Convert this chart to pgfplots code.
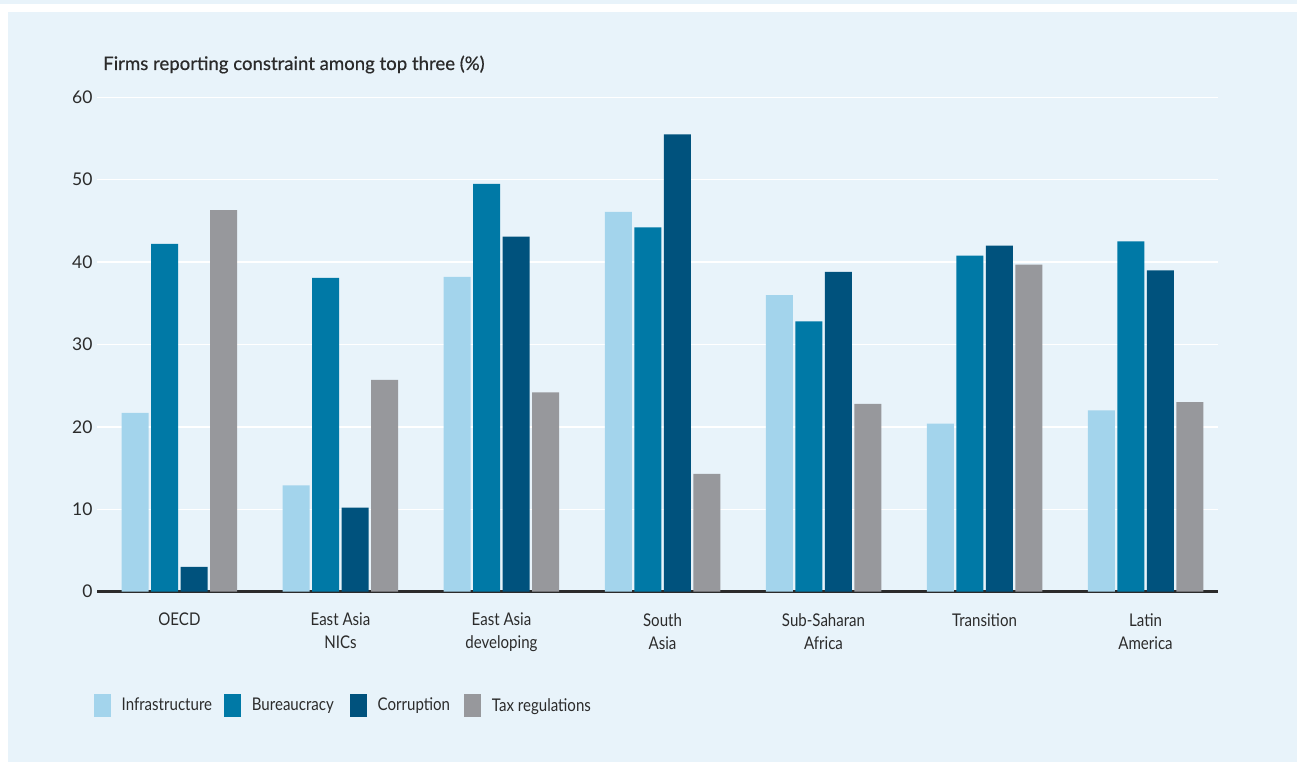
\documentclass[border=0pt]{standalone}
\usepackage{pgfplots}
\pgfplotsset{compat=1.18}
\usepackage{fontspec}
\setmainfont[FakeStretch=0.86]{Lato}
\newfontfamily\numfont{Lato}
\newfontfamily\titlefont[FakeBold=0.5]{Lato}
\definecolor{panel}{HTML}{E8F3FA}
\definecolor{cInf}{HTML}{A3D4EC}
\definecolor{cBur}{HTML}{0079A6}
\definecolor{cCor}{HTML}{00527D}
\definecolor{cTax}{HTML}{97989C}
\definecolor{txt}{HTML}{2B2B2B}
\begin{document}
\begin{tikzpicture}
\fill[white] (0bp,0bp) rectangle (1297bp,762bp);
\fill[panel] (0bp,758bp) rectangle (1297bp,762bp);
\fill[panel] (8bp,0bp) rectangle (1297bp,750bp);
\useasboundingbox (0bp,0bp) rectangle (1297bp,762bp);
\node[anchor=base west, inner sep=0pt, text=txt, font=\titlefont\fontsize{18.6bp}{22bp}\selectfont] at (103bp,692bp) {Firms reporting constraint among top three (\%)};
\begin{axis}[
  at={(97bp,170.3bp)}, anchor=south west,
  scale only axis, width=1121bp, height=494.4bp,
  ymin=0, ymax=60, xmin=-0.512, xmax=6.45,
  ytick={0,10,...,60},
  xtick={0,...,6},
  xticklabels={OECD,{East Asia\\NICs},{East Asia\\developing},{South\\Asia},{Sub-Saharan\\Africa},Transition,{Latin\\America}},
  /pgf/number format/assume math mode=true,
  axis x line*=bottom, axis y line*=left,
  x axis line style={line width=2.7bp, color=txt, -},
  y axis line style={draw=none},
  ymajorgrids, grid style={white, line width=1.3bp},
  major tick length=0pt,
  tick label style={font=\fontsize{17.5bp}{23bp}\selectfont, text=txt},
  y tick label style={font=\numfont\fontsize{17.5bp}{23bp}\selectfont, xshift=-1bp},
  x tick label style={align=center, anchor=north, yshift=-18bp},
  ybar=2.5bp, bar width=27bp,
  legend columns=4,
  legend image code/.code={\fill[#1] (0bp,-11.35bp) rectangle (17bp,11.35bp);},
  legend style={at={(-0.0033,-0.2298)}, anchor=west, draw=none, fill=none, inner sep=0pt,
    font=\fontsize{17.5bp}{20bp}\selectfont, text=txt,
    nodes={inner sep=0pt},
    column sep=11.2bp,
    /tikz/every even column/.append style={column sep=0bp},
    /tikz/column 2/.style={nodes={text width=102bp}},
    /tikz/column 4/.style={nodes={text width=97.6bp}},
    /tikz/column 6/.style={nodes={text width=86bp}}},
]
\addplot[fill=cInf, draw=none] coordinates {(0,21.7) (1,12.9) (2,38.2) (3,46.1) (4,36.0) (5,20.4) (6,22.0)};
\addplot[fill=cBur, draw=none] coordinates {(0,42.2) (1,38.1) (2,49.5) (3,44.2) (4,32.8) (5,40.8) (6,42.5)};
\addplot[fill=cCor, draw=none] coordinates {(0,3.0) (1,10.2) (2,43.1) (3,55.5) (4,38.8) (5,42.0) (6,39.0)};
\addplot[fill=cTax, draw=none] coordinates {(0,46.3) (1,25.7) (2,24.2) (3,14.3) (4,22.8) (5,39.7) (6,23.0)};
\legend{Infrastructure,Bureaucracy,Corruption,Tax regulations}
\end{axis}
\end{tikzpicture}
\end{document}
